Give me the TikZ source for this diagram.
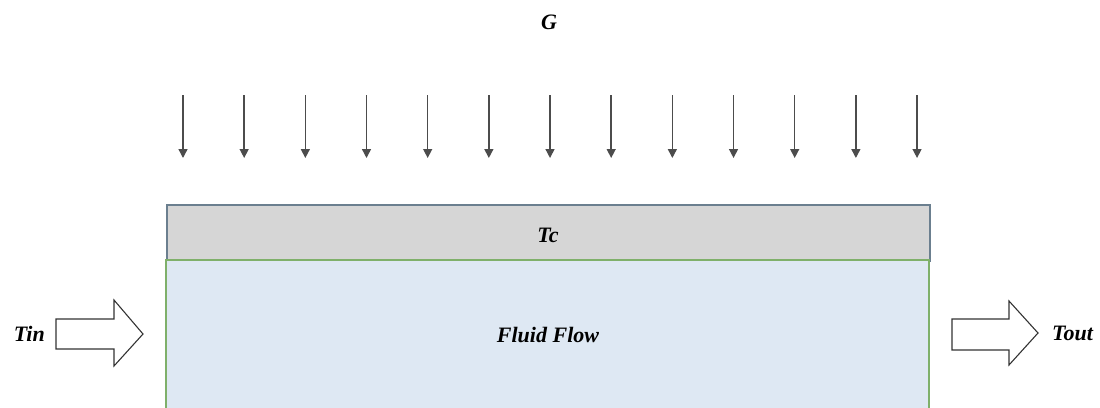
\documentclass[tikz,border=0pt]{standalone}
\usepackage{fontspec}
\setmainfont{Liberation Serif}
\usetikzlibrary{arrows.meta,shapes.arrows}
\definecolor{greybox}{HTML}{D6D6D6}
\definecolor{bluebox}{HTML}{DEE8F3}
\definecolor{greyedge}{HTML}{6B7F8F}
\definecolor{greenedge}{HTML}{7FB06A}
\tikzset{
  lbl/.style={font=\fontsize{22}{24}\selectfont\bfseries\itshape, inner sep=0pt},
  rad/.style={draw=black!70, line width=1.4pt, -{Triangle[length=9pt,width=9pt]}},
  blockarrow/.style={draw=black!80, line width=1.1pt, fill=white}
}
\begin{document}
\begin{tikzpicture}[x=1pt,y=-1pt]
\useasboundingbox (0,0) rectangle (1100,407);
% boxes
\node[draw=greyedge, fill=greybox, line width=1.5pt, minimum width=763pt, minimum height=56pt, inner sep=0pt, anchor=north west] (tc) at (166,204) {};
\fill[bluebox] (166,260) rectangle (929,410);
\draw[greenedge, line width=1.5pt] (166,410) -- (166,260) -- (929,260) -- (929,410);
\node[lbl] (tclbl) at (548,235) {Tc};
\node[lbl] (flow) at (548,335) {Fluid Flow};
\node[lbl] (g) at (549,22) {G};
% radiation arrows
\foreach \i in {0,...,12} {
  \coordinate (s\i) at ({183+61.17*\i},95);
  \coordinate (e\i) at ({183+61.17*\i},158);
  \draw[rad] (s\i) -- (e\i);
}
% inlet / outlet block arrows
\draw[blockarrow] (56,319) -- (114,319) -- (114,300) -- (143,334) -- (114,366) -- (114,349) -- (56,349) -- cycle;
\draw[blockarrow] (952,319) -- (1009,319) -- (1009,301) -- (1038,333) -- (1009,365) -- (1009,350) -- (952,350) -- cycle;
\node[lbl, anchor=east] (tin) at (45,334) {Tin};
\node[lbl, anchor=west] (tout) at (1052,333) {Tout};
\end{tikzpicture}
\end{document}
